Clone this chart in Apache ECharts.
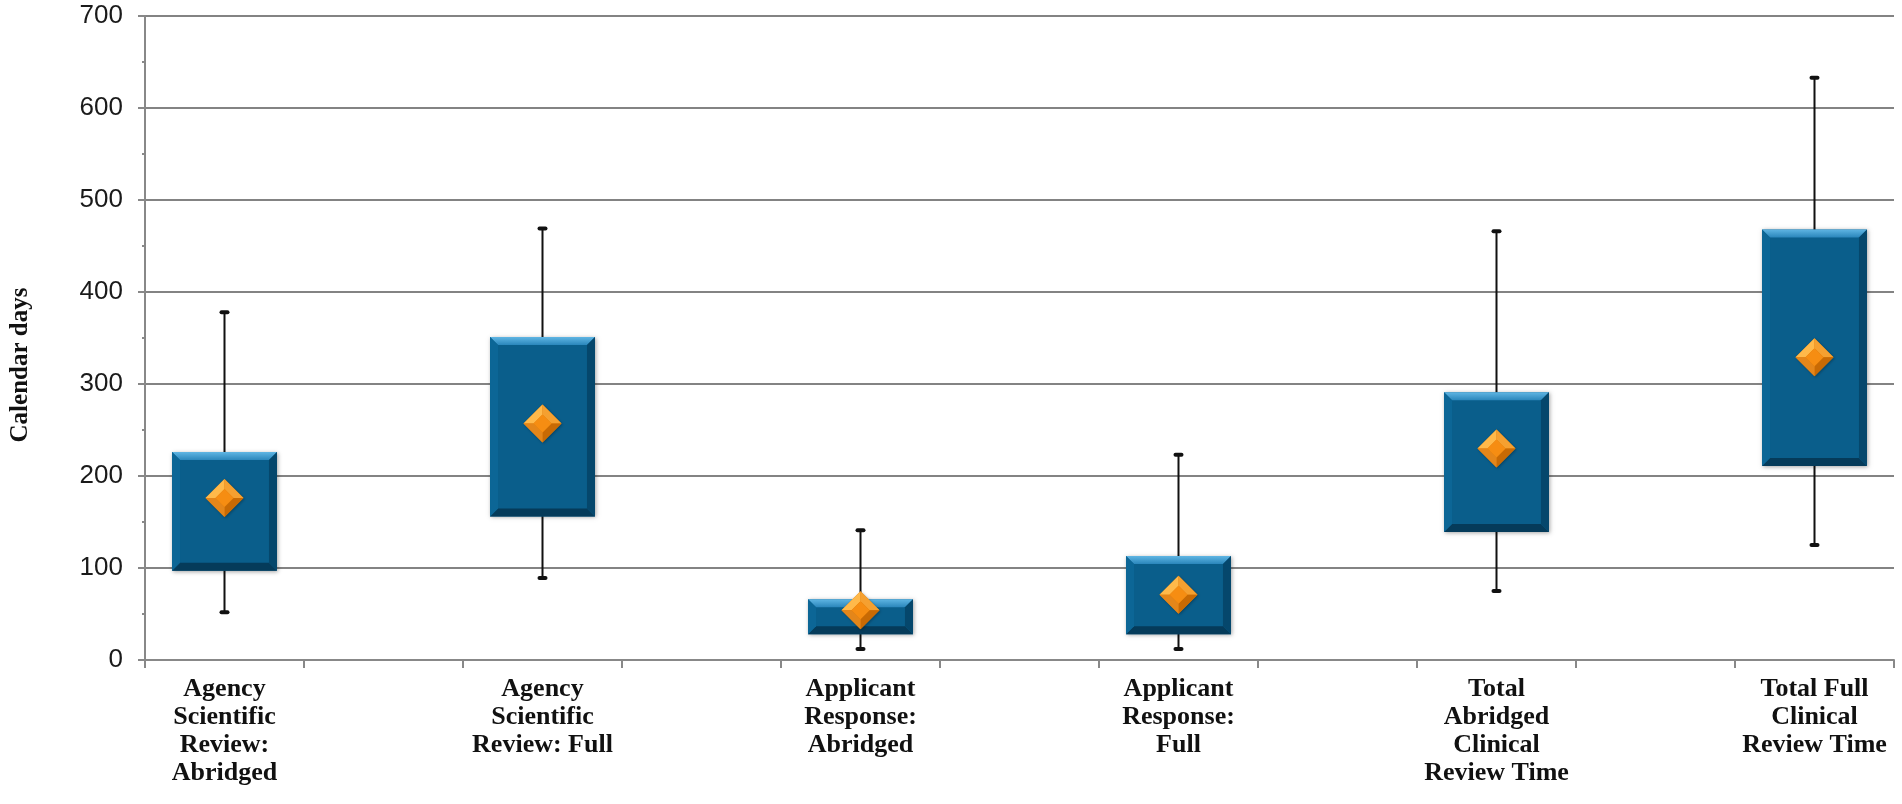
<!DOCTYPE html>
<html>
<head>
<meta charset="utf-8">
<script src="https://cdn.jsdelivr.net/npm/echarts@6/dist/echarts.min.js"></script>
<style>
html,body{margin:0;padding:0;background:#fff;}
#chart{width:1902px;height:804px;}
</style>
</head>
<body>
<div id="chart"></div>
<script>
// ---- data ----
var groupLabels = [
  'Agency\nScientific\nReview:\nAbridged',
  'Agency\nScientific\nReview: Full',
  'Applicant\nResponse:\nAbridged',
  'Applicant\nResponse:\nFull',
  'Total\nAbridged\nClinical\nReview Time',
  'Total Full\nClinical\nReview Time'
];
var whiskerLow  = [52, 89, 12, 12, 75, 125];
var q1Values    = [97, 156, 28, 28, 139, 211];
var q3Values    = [226, 351, 66, 113, 291, 468];
var whiskerHigh = [378, 469, 141, 223, 466, 633];
var meanValues  = [176, 257, 54, 71, 230, 329];
var yTicks = [0, 100, 200, 300, 400, 500, 600, 700];

// categories: each group followed by an empty spacer slot
var categories = [];
groupLabels.forEach(function (g, i) {
  categories.push(g);
  if (i < groupLabels.length - 1) categories.push('');
});
var seriesData = groupLabels.map(function (g, i) {
  return [i * 2, whiskerLow[i], q1Values[i], q3Values[i], whiskerHigh[i], meanValues[i]];
});

function renderBox(params, api) {
  var x = api.value(0);
  var pLo = api.coord([x, api.value(1)]);
  var pQ1 = api.coord([x, api.value(2)]);
  var pQ3 = api.coord([x, api.value(3)]);
  var pHi = api.coord([x, api.value(4)]);
  var pM = api.coord([x, api.value(5)]);
  var cx = pLo[0];
  var w = api.size([1, 0])[0] * 0.66;
  var x0 = cx - w / 2, x1 = cx + w / 2;
  var yT = pQ3[1], yB = pQ1[1];
  var b = Math.min(8, (yB - yT) / 3);
  var children = [];
  // whisker
  children.push({ type: 'line', shape: { x1: cx, y1: pHi[1], x2: cx, y2: pLo[1] },
    style: { stroke: '#111', lineWidth: 2 } });
  children.push({ type: 'rect', shape: { x: cx - 5, y: pHi[1] - 2, width: 10, height: 4, r: 2 },
    style: { fill: '#111' } });
  children.push({ type: 'rect', shape: { x: cx - 5, y: pLo[1] - 2, width: 10, height: 4, r: 2 },
    style: { fill: '#111' } });
  // box body
  children.push({ type: 'rect', shape: { x: x0, y: yT, width: w, height: yB - yT },
    style: { fill: '#0a5e8b', shadowBlur: 4, shadowColor: 'rgba(0,0,0,0.35)', shadowOffsetX: 1, shadowOffsetY: 1 } });
  // bevel facets
  children.push({ type: 'polygon', shape: { points: [[x0, yT], [x1, yT], [x1 - b, yT + b], [x0 + b, yT + b]] },
    style: { fill: new echarts.graphic.LinearGradient(0, 0, 0, 1, [{ offset: 0, color: '#5fb5e3' }, { offset: 1, color: '#2a86bb' }]) } });
  children.push({ type: 'polygon', shape: { points: [[x0, yB], [x1, yB], [x1 - b, yB - b], [x0 + b, yB - b]] },
    style: { fill: '#053b5a' } });
  children.push({ type: 'polygon', shape: { points: [[x0, yT], [x0 + b, yT + b], [x0 + b, yB - b], [x0, yB]] },
    style: { fill: '#0c6696' } });
  children.push({ type: 'polygon', shape: { points: [[x1, yT], [x1 - b, yT + b], [x1 - b, yB - b], [x1, yB]] },
    style: { fill: '#05476c' } });
  // mean diamond
  var r = 19, ri = 9;
  var my = pM[1];
  var T = [cx, my - r], R = [cx + r, my], B = [cx, my + r], L = [cx - r, my];
  var t = [cx, my - ri], rr = [cx + ri, my], bb = [cx, my + ri], l = [cx - ri, my];
  children.push({ type: 'polygon', shape: { points: [T, R, B, L] },
    style: { fill: '#d87808', shadowBlur: 3, shadowColor: 'rgba(0,0,0,0.3)', shadowOffsetX: 1, shadowOffsetY: 1 } });
  children.push({ type: 'polygon', shape: { points: [L, T, t, l] }, style: { fill: '#ffb94a' } });
  children.push({ type: 'polygon', shape: { points: [T, R, rr, t] }, style: { fill: '#f5a030' } });
  children.push({ type: 'polygon', shape: { points: [R, B, bb, rr] }, style: { fill: '#c86a04' } });
  children.push({ type: 'polygon', shape: { points: [B, L, l, bb] }, style: { fill: '#e4861a' } });
  children.push({ type: 'polygon', shape: { points: [t, rr, bb, l] }, style: { fill: '#f68d12' } });
  return { type: 'group', children: children };
}

var chart = echarts.init(document.getElementById('chart'), null, { renderer: 'canvas' });
chart.setOption({
  animation: false,
  backgroundColor: '#ffffff',
  grid: { left: 145, right: 8, top: 16, bottom: 144, containLabel: false },
  xAxis: {
    type: 'category',
    data: categories,
    boundaryGap: true,
    axisLine: { show: true, lineStyle: { color: '#888', width: 2 } },
    axisTick: { show: true, interval: 0, length: 8, lineStyle: { color: '#888', width: 2 } },
    axisLabel: {
      interval: 0, margin: 15,
      fontFamily: 'Liberation Serif', fontWeight: 'bold', fontSize: 26, lineHeight: 28,
      color: '#111', align: 'center', verticalAlign: 'top'
    },
    splitLine: { show: false }
  },
  yAxis: {
    type: 'value',
    min: yTicks[0], max: yTicks[yTicks.length - 1], interval: 100,
    axisLine: { show: true, lineStyle: { color: '#888', width: 2 } },
    axisTick: { show: true, length: 7, lineStyle: { color: '#888', width: 2 } },
    minorTick: { show: true, splitNumber: 2, length: 3, lineStyle: { color: '#888', width: 2 } },
    axisLabel: { margin: 22, fontFamily: 'Liberation Sans', fontSize: 26, color: '#1a1a1a' },
    splitLine: { show: true, lineStyle: { color: '#838383', width: 2 } }
  },
  graphic: [{
    type: 'text', x: 21, y: 365, rotation: Math.PI / 2,
    style: { text: 'Calendar days', fontFamily: 'Liberation Serif', fontWeight: 'bold', fontSize: 25,
      fill: '#111', align: 'center', verticalAlign: 'middle' }
  }],
  series: [{
    type: 'custom',
    renderItem: renderBox,
    encode: { x: 0, y: [1, 2, 3, 4, 5] },
    data: seriesData,
    z: 5
  }]
});
</script>
</body>
</html>
